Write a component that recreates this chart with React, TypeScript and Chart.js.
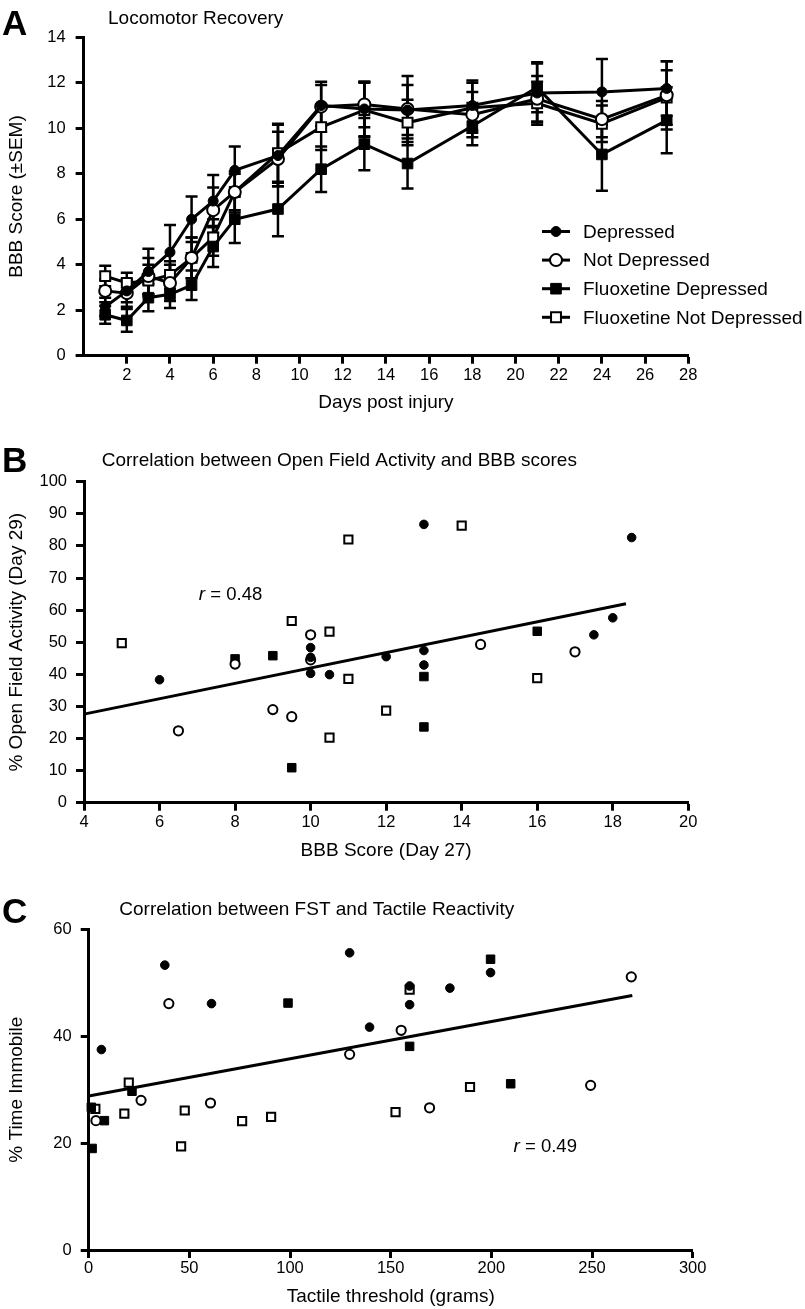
import React, { useEffect, useRef } from 'react';
import { Chart, registerables } from 'chart.js';

Chart.register(...registerables);

const FONT = "'Liberation Sans', Arial, Helvetica, sans-serif";
Chart.defaults.font.family = FONT;
Chart.defaults.color = '#000';

// ---------------- Panel A data ----------------
const seriesLabels = ['Depressed', 'Not Depressed', 'Fluoxetine Depressed', 'Fluoxetine Not Depressed'];
const days = [1, 2, 3, 4, 5, 6, 7, 9, 11, 13, 15, 18, 21, 24, 27];
const depressedMean = [2.15, 2.85, 3.7, 4.55, 6.0, 6.8, 8.15, 8.8, 11.0, 10.85, 10.8, 11.0, 11.55, 11.6, 11.75];
const depressedSem = [0.4, 0.5, 1.0, 1.2, 1.0, 1.15, 1.05, 1.35, 0.9, 1.2, 1.1, 1.1, 1.3, 1.45, 1.2];
const notDepressedMean = [2.85, 2.75, 3.5, 3.2, 4.3, 6.4, 7.2, 8.65, 10.95, 11.05, 10.85, 10.6, 11.3, 10.4, 11.45];
const notDepressedSem = [0.5, 0.6, 0.8, 0.8, 0.9, 1.0, 0.9, 1.2, 1.1, 1.0, 1.45, 1.0, 1.0, 0.8, 1.5];
const fluoxDepMean = [1.8, 1.55, 2.55, 2.7, 3.1, 4.8, 6.0, 6.45, 8.2, 9.3, 8.45, 10.1, 11.8, 8.85, 10.35];
const fluoxDepSem = [0.4, 0.5, 0.6, 0.6, 0.65, 0.9, 1.05, 1.2, 1.0, 1.15, 1.1, 0.85, 1.1, 1.6, 1.45];
const fluoxNotDepMean = [3.5, 3.2, 3.3, 3.55, 4.3, 5.2, 7.2, 8.9, 10.05, 10.8, 10.25, 10.9, 11.1, 10.2, 11.35];
const fluoxNotDepSem = [0.45, 0.45, 0.7, 0.6, 0.9, 0.8, 0.8, 1.3, 1.0, 1.2, 1.0, 1.1, 0.95, 0.8, 1.2];
const xTicksA = [0, 2, 4, 6, 8, 10, 12, 14, 16, 18, 20, 22, 24, 26, 28];
const yTicksA = [0, 2, 4, 6, 8, 10, 12, 14];

// ---------------- Panel B data ----------------
const bDepX = [6, 10, 10, 10, 10.5, 12, 13, 13, 13, 17.5, 18, 18.5];
const bDepY = [38.3, 48.3, 45.3, 40.3, 39.9, 45.5, 86.7, 47.4, 42.9, 52.3, 57.6, 82.6];
const bNotDepX = [6.5, 8, 9, 9.5, 10, 10, 14.5, 17];
const bNotDepY = [22.4, 43.2, 29, 26.8, 52.3, 44.5, 49.3, 47];
const bFluoxDepX = [8, 9, 9.5, 13, 13, 16];
const bFluoxDepY = [44.8, 45.8, 10.9, 39.3, 23.6, 53.4];
const bFluoxNotDepX = [5, 9.5, 10.5, 10.5, 11, 11, 12, 14, 16];
const bFluoxNotDepY = [49.7, 56.6, 53.3, 20.3, 82, 38.6, 28.7, 86.3, 38.8];
const bFitX = [4, 18.35];
const bFitY = [27.6, 62];
const xTicksB = [4, 6, 8, 10, 12, 14, 16, 18, 20];
const yTicksB = [0, 10, 20, 30, 40, 50, 60, 70, 80, 90, 100];

// ---------------- Panel C data ----------------
const cDepX = [6.3, 37.8, 61, 129.6, 139.5, 159.4, 159.4, 179.4, 199.6];
const cDepY = [37.5, 53.3, 46.1, 55.6, 41.7, 49.4, 45.9, 49, 51.9];
const cNotDepX = [3.6, 26, 39.8, 60.5, 129.6, 155.2, 169.3, 249.3, 269.5];
const cNotDepY = [24.2, 28, 46.1, 27.5, 36.6, 41.1, 26.6, 30.8, 51.1];
const cFluoxDepX = [1.3, 7.8, 1.7, 21.5, 99, 159.4, 199.6, 209.6];
const cFluoxDepY = [26.7, 24.2, 19, 29.7, 46.2, 38.1, 54.4, 31.1];
const cFluoxNotDepX = [3.3, 17.7, 19.9, 45.9, 47.7, 76.2, 90.6, 152.4, 159.4, 189.4];
const cFluoxNotDepY = [26.4, 25.5, 31.3, 19.4, 26.1, 24.1, 24.9, 25.8, 48.7, 30.5];
const cFitX = [0, 270];
const cFitY = [28.8, 47.6];
const xTicksC = [0, 50, 100, 150, 200, 250, 300];
const yTicksC = [0, 20, 40, 60];

// ---------------- styles ----------------
type Marker = { shape: 'circle' | 'rect'; r: number; fill: string; bw: number };
const markersA: Marker[] = [
  { shape: 'circle', r: 5, fill: '#000', bw: 1 },
  { shape: 'circle', r: 6, fill: '#fff', bw: 2 },
  { shape: 'rect', r: 7.5, fill: '#000', bw: 1 },
  { shape: 'rect', r: 7, fill: '#fff', bw: 2 },
];
const markersBC: Marker[] = [
  { shape: 'circle', r: 4.3, fill: '#000', bw: 1 },
  { shape: 'circle', r: 4.6, fill: '#fff', bw: 2 },
  { shape: 'rect', r: 6, fill: '#000', bw: 1 },
  { shape: 'rect', r: 5.8, fill: '#fff', bw: 2 },
];

const zip = (xs: number[], ys: number[]) => xs.map((x, i) => ({ x, y: ys[i] }));

function pointProps(m: Marker) {
  return {
    pointStyle: m.shape,
    pointRadius: m.r,
    pointHoverRadius: m.r,
    pointBackgroundColor: m.fill,
    pointBorderColor: '#000',
    pointBorderWidth: m.bw,
  };
}

function drawMarker(ctx: CanvasRenderingContext2D, m: Marker, x: number, y: number) {
  ctx.save();
  ctx.beginPath();
  if (m.shape === 'circle') {
    ctx.arc(x, y, m.r, 0, Math.PI * 2);
  } else {
    const s = Math.SQRT1_2 * m.r;
    ctx.rect(x - s, y - s, 2 * s, 2 * s);
  }
  ctx.fillStyle = m.fill;
  ctx.fill();
  ctx.lineWidth = m.bw;
  ctx.strokeStyle = '#000';
  ctx.stroke();
  ctx.restore();
}

// ---------------- plugins ----------------
function decoPlugin(letter: string, letterBase: number, title: string, titleX: number, titleBase: number) {
  return {
    id: 'deco',
    afterDraw(chart: any) {
      const ctx = chart.ctx as CanvasRenderingContext2D;
      ctx.save();
      ctx.fillStyle = '#000';
      ctx.textBaseline = 'alphabetic';
      ctx.textAlign = 'left';
      ctx.font = `bold 35px ${FONT}`;
      ctx.fillText(letter, 2, letterBase);
      ctx.font = `19px ${FONT}`;
      ctx.fillText(title, titleX, titleBase);
      ctx.restore();
    },
  };
}

function rTextPlugin(value: string, xVal: number, yVal: number) {
  return {
    id: 'rText',
    afterDraw(chart: any) {
      const ctx = chart.ctx as CanvasRenderingContext2D;
      const px = chart.scales.x.getPixelForValue(xVal);
      const py = chart.scales.y.getPixelForValue(yVal);
      ctx.save();
      ctx.fillStyle = '#000';
      ctx.textBaseline = 'alphabetic';
      ctx.textAlign = 'left';
      ctx.font = `italic 19px ${FONT}`;
      ctx.fillText('r', px, py);
      const w = ctx.measureText('r').width;
      ctx.font = `18.5px ${FONT}`;
      ctx.fillText(' = ' + value, px + w, py);
      ctx.restore();
    },
  };
}

function errorBarPlugin(sems: number[][]) {
  return {
    id: 'errorBars',
    beforeDatasetsDraw(chart: any) {
      const ctx = chart.ctx as CanvasRenderingContext2D;
      const ys = chart.scales.y;
      const cap = 6;
      ctx.save();
      ctx.strokeStyle = '#000';
      ctx.lineWidth = 2.5;
      chart.data.datasets.forEach((ds: any, i: number) => {
        const sem = sems[i];
        if (!sem) return;
        const meta = chart.getDatasetMeta(i);
        meta.data.forEach((el: any, j: number) => {
          const v = ds.data[j].y;
          const e = sem[j];
          const x = el.x;
          const t = ys.getPixelForValue(v + e);
          const b = ys.getPixelForValue(v - e);
          ctx.beginPath();
          ctx.moveTo(x, t);
          ctx.lineTo(x, b);
          ctx.moveTo(x - cap, t);
          ctx.lineTo(x + cap, t);
          ctx.moveTo(x - cap, b);
          ctx.lineTo(x + cap, b);
          ctx.stroke();
        });
      });
      ctx.restore();
    },
  };
}

function legendPlugin(markers: Marker[]) {
  return {
    id: 'customLegend',
    afterDraw(chart: any) {
      const ctx = chart.ctx as CanvasRenderingContext2D;
      const x0 = 542;
      const x1 = 570;
      const xm = 556;
      const tx = 583;
      const y0 = 231.5;
      const dy = 28.6;
      chart.data.datasets.forEach((ds: any, i: number) => {
        const y = y0 + i * dy;
        ctx.save();
        ctx.strokeStyle = '#000';
        ctx.lineWidth = 3;
        ctx.beginPath();
        ctx.moveTo(x0, y);
        ctx.lineTo(x1, y);
        ctx.stroke();
        ctx.restore();
        drawMarker(ctx, markers[i], xm, y);
        ctx.save();
        ctx.fillStyle = '#000';
        ctx.font = `19px ${FONT}`;
        ctx.textBaseline = 'middle';
        ctx.textAlign = 'left';
        ctx.fillText(ds.label, tx, y + 1);
        ctx.restore();
      });
    },
  };
}

// ---------------- axis helpers ----------------
function makeAxis(opts: {
  horizontal: boolean;
  min: number;
  max: number;
  ticks: number[];
  size: number;
  title: string;
  titlePad: any;
  labelPad: number;
  hideZeroTick?: boolean;
  hideZeroLabel?: boolean;
}) {
  return {
    type: 'linear',
    min: opts.min,
    max: opts.max,
    afterBuildTicks: (s: any) => {
      s.ticks = opts.ticks.map((v) => ({ value: v }));
    },
    afterFit: (s: any) => {
      if (opts.horizontal) s.height = opts.size;
      else s.width = opts.size;
    },
    grid: {
      display: true,
      drawOnChartArea: false,
      drawTicks: true,
      tickLength: 8,
      tickWidth: 3,
      tickColor: (c: any) => (opts.hideZeroTick && c.tick && c.tick.value === 0 ? 'rgba(0,0,0,0)' : '#000'),
    },
    border: { display: true, color: '#000', width: 3 },
    ticks: {
      padding: opts.labelPad,
      color: '#000',
      font: { size: 16.5 },
      autoSkip: false,
      maxRotation: 0,
      callback: (v: any) => (opts.hideZeroLabel && v === 0 ? '' : String(v)),
    },
    title: {
      display: true,
      text: opts.title,
      color: '#000',
      font: { size: 19 },
      padding: opts.titlePad,
    },
  };
}

// ---------------- configs ----------------
function configA(): any {
  const means = [depressedMean, notDepressedMean, fluoxDepMean, fluoxNotDepMean];
  const sems = [depressedSem, notDepressedSem, fluoxDepSem, fluoxNotDepSem];
  return {
    type: 'line',
    data: {
      datasets: means.map((m, i) => ({
        label: seriesLabels[i],
        data: zip(days, m),
        borderColor: '#000',
        borderWidth: 3,
        tension: 0,
        fill: false,
        clip: false,
        ...pointProps(markersA[i]),
      })),
    },
    options: {
      responsive: false,
      animation: false,
      events: [],
      layout: { padding: { left: 0, right: 116.7, top: 37.3, bottom: 0 } },
      plugins: { legend: { display: false }, tooltip: { enabled: false }, title: { display: false } },
      scales: {
        x: makeAxis({
          horizontal: true, min: 0, max: 28, ticks: xTicksA, size: 64.3,
          title: 'Days post injury', titlePad: { top: 0, bottom: 5.6 }, labelPad: 2,
          hideZeroTick: true, hideZeroLabel: true,
        }),
        y: makeAxis({
          horizontal: false, min: 0, max: 14, ticks: yTicksA, size: 83.6,
          title: 'BBB Score (\u00B1SEM)', titlePad: { top: 5, bottom: 0 }, labelPad: 10,
        }),
      },
    },
    plugins: [
      errorBarPlugin(sems),
      legendPlugin(markersA),
      decoPlugin('A', 35, 'Locomotor Recovery', 108, 23.6),
    ],
  };
}

function scatterSets(groups: { x: number[]; y: number[] }[], fit: { x: number[]; y: number[] }) {
  const sets: any[] = groups.map((g, i) => ({
    label: seriesLabels[i],
    data: zip(g.x, g.y),
    showLine: false,
    clip: false,
    ...pointProps(markersBC[i]),
  }));
  sets.push({
    label: 'fit',
    data: zip(fit.x, fit.y),
    showLine: true,
    borderColor: '#000',
    borderWidth: 3,
    pointRadius: 0,
    clip: false,
    order: 1,
  });
  return sets;
}

function configB(): any {
  return {
    type: 'scatter',
    data: {
      datasets: scatterSets(
        [
          { x: bDepX, y: bDepY },
          { x: bNotDepX, y: bNotDepY },
          { x: bFluoxDepX, y: bFluoxDepY },
          { x: bFluoxNotDepX, y: bFluoxNotDepY },
        ],
        { x: bFitX, y: bFitY }
      ),
    },
    options: {
      responsive: false,
      animation: false,
      events: [],
      layout: { padding: { left: 0, right: 116.7, top: 61.7, bottom: 0 } },
      plugins: { legend: { display: false }, tooltip: { enabled: false }, title: { display: false } },
      scales: {
        x: makeAxis({
          horizontal: true, min: 4, max: 20, ticks: xTicksB, size: 67.3,
          title: 'BBB Score (Day 27)', titlePad: { top: 0, bottom: 7.6 }, labelPad: 1.5,
        }),
        y: makeAxis({
          horizontal: false, min: 0, max: 100, ticks: yTicksB, size: 84,
          title: '% Open Field Activity (Day 29)', titlePad: { top: 5, bottom: 0 }, labelPad: 9,
        }),
      },
    },
    plugins: [
      rTextPlugin('0.48', 7.04, 63),
      decoPlugin('B', 52, 'Correlation between Open Field Activity and BBB scores', 101.7, 46),
    ],
  };
}

function configC(): any {
  return {
    type: 'scatter',
    data: {
      datasets: scatterSets(
        [
          { x: cDepX, y: cDepY },
          { x: cNotDepX, y: cNotDepY },
          { x: cFluoxDepX, y: cFluoxDepY },
          { x: cFluoxNotDepX, y: cFluoxNotDepY },
        ],
        { x: cFitX, y: cFitY }
      ),
    },
    options: {
      responsive: false,
      animation: false,
      events: [],
      layout: { padding: { left: 0, right: 112.3, top: 59.3, bottom: 0 } },
      plugins: { legend: { display: false }, tooltip: { enabled: false }, title: { display: false } },
      scales: {
        x: makeAxis({
          horizontal: true, min: 0, max: 300, ticks: xTicksC, size: 59,
          title: 'Tactile threshold (grams)', titlePad: { top: 0, bottom: 0.6 }, labelPad: 1,
        }),
        y: makeAxis({
          horizontal: false, min: 0, max: 60, ticks: yTicksC, size: 88.7,
          title: '% Time Immobile', titlePad: { top: 5, bottom: 0 }, labelPad: 9,
        }),
      },
    },
    plugins: [
      rTextPlugin('0.49', 211, 18.3),
      decoPlugin('C', 53, 'Correlation between FST and Tactile Reactivity', 119.3, 44.5),
    ],
  };
}

function ChartCanvas({ top, height, make }: { top: number; height: number; make: () => any }) {
  const ref = useRef<HTMLCanvasElement | null>(null);
  useEffect(() => {
    if (!ref.current) return;
    const chart = new Chart(ref.current, make());
    return () => chart.destroy();
  }, []);
  return (
    <canvas
      ref={ref}
      width={805}
      height={height}
      style={{ position: 'absolute', left: 0, top, width: 805, height, display: 'block' }}
    />
  );
}

export default function App() {
  return (
    <div style={{ position: 'absolute', left: 0, top: 0, width: 805, height: 1309, background: '#fff', overflow: 'hidden' }}>
      <ChartCanvas top={0} height={420} make={configA} />
      <ChartCanvas top={420} height={450} make={configB} />
      <ChartCanvas top={870} height={439} make={configC} />
    </div>
  );
}
